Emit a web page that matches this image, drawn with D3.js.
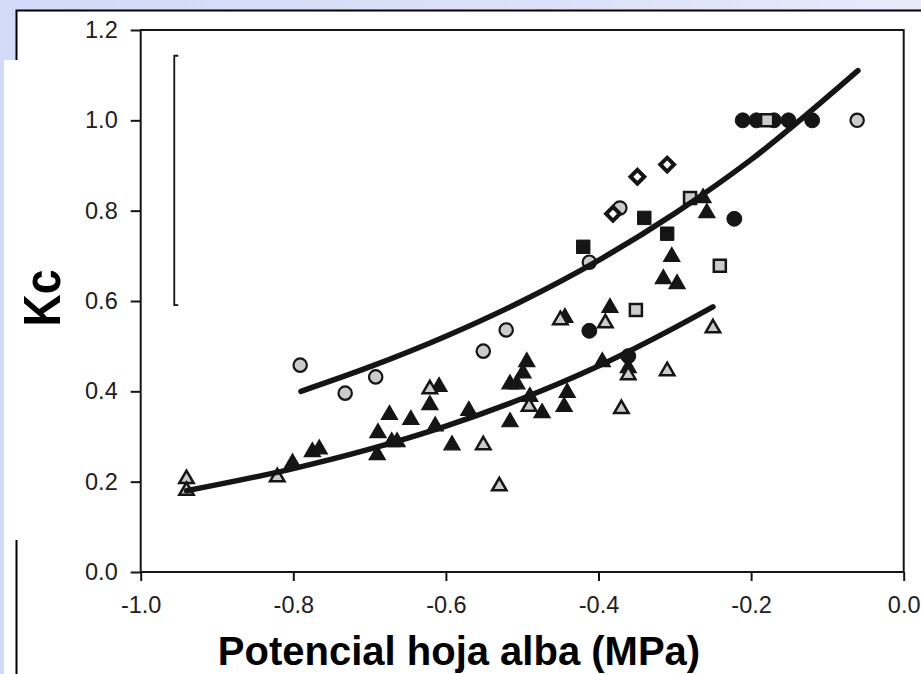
<!DOCTYPE html>
<html>
<head>
<meta charset="utf-8">
<script src="https://cdn.jsdelivr.net/npm/d3@7"></script>
<style>
  html, body { margin: 0; padding: 0; background: #fff; }
  svg { display: block; }
</style>
</head>
<body>
<div id="chart"></div>
<script>
// values, [leaf water potential (MPa), Kc]
const blackTriangles = [
  [-0.801, 0.241], [-0.775, 0.266], [-0.766, 0.272], [-0.690, 0.259], [-0.689, 0.308],
  [-0.674, 0.348], [-0.671, 0.288], [-0.664, 0.288], [-0.646, 0.337], [-0.621, 0.370],
  [-0.614, 0.323], [-0.609, 0.410], [-0.592, 0.281], [-0.570, 0.357], [-0.516, 0.416],
  [-0.507, 0.416], [-0.516, 0.332], [-0.499, 0.440], [-0.494, 0.465], [-0.490, 0.388],
  [-0.474, 0.352], [-0.445, 0.366], [-0.441, 0.397], [-0.444, 0.563], [-0.395, 0.465],
  [-0.385, 0.585], [-0.361, 0.452], [-0.315, 0.649], [-0.304, 0.698], [-0.297, 0.638],
  [-0.263, 0.828], [-0.258, 0.795]
]
const greyTriangles = [
  [-0.940, 0.206], [-0.940, 0.180], [-0.821, 0.210], [-0.621, 0.405], [-0.551, 0.281],
  [-0.530, 0.190], [-0.491, 0.366], [-0.450, 0.558], [-0.391, 0.551], [-0.370, 0.361],
  [-0.361, 0.436], [-0.310, 0.445], [-0.250, 0.540]
]
const greyCircles = [
  [-0.791, 0.458], [-0.732, 0.396], [-0.692, 0.432], [-0.551, 0.489], [-0.521, 0.536],
  [-0.412, 0.686], [-0.372, 0.806], [-0.061, 1.000]
]
const blackCircles = [
  [-0.412, 0.534], [-0.361, 0.478], [-0.222, 0.782], [-0.211, 1.000], [-0.193, 1.000],
  [-0.170, 1.000], [-0.151, 1.000], [-0.120, 1.000]
]
const blackSquares = [[-0.420, 0.720], [-0.340, 0.784], [-0.310, 0.749]]
const greySquares = [[-0.351, 0.580], [-0.280, 0.828], [-0.241, 0.678], [-0.179, 1.000]]
const whiteDiamonds = [[-0.381, 0.793], [-0.349, 0.875], [-0.310, 0.902]]

// fitted curves, points
const upperCurve = [
  [-0.79, 0.400], [-0.70, 0.454], [-0.60, 0.522], [-0.50, 0.600], [-0.40, 0.690],
  [-0.30, 0.794], [-0.20, 0.913], [-0.06, 1.110]
]
const lowerCurve = [
  [-0.94, 0.180], [-0.80, 0.229], [-0.70, 0.272], [-0.60, 0.323], [-0.50, 0.384],
  [-0.40, 0.456], [-0.30, 0.541], [-0.25, 0.587]
]

// vertical bar in the top-left corner
const errorBar = { x: -0.956, low: 0.591, high: 1.143 }

const xTicks = [-1.0, -0.8, -0.6, -0.4, -0.2, 0.0]
const xTickLabels = ['-1.0', '-0.8', '-0.6', '-0.4', '-0.2', '0.0']
const yTicks = [0.0, 0.2, 0.4, 0.6, 0.8, 1.0, 1.2]
const yTickLabels = ['0.0', '0.2', '0.4', '0.6', '0.8', '1.0', '1.2']

const svg_width = 921
const svg_height = 674
const plot_left = 140.7
const plot_right = 903.7
const plot_top = 30
const plot_bottom = 572
const ink = '#151515'
const grey_fill = '#cbcbcb'

const xScale = d3.scaleLinear().domain([-1, 0]).range([plot_left, plot_right])
const yScale = d3.scaleLinear().domain([0, 1.2]).range([plot_bottom, plot_top])

const svg = d3.select('#chart')
  .append('svg')
  .attr('width', svg_width)
  .attr('height', svg_height)

// slide background: blue band on top and left, black frame line
const defs = svg.append('defs')
const grad = defs.append('linearGradient').attr('id', 'slide').attr('x1', 0).attr('x2', 1).attr('y1', 0).attr('y2', 0)
grad.append('stop').attr('offset', 0).attr('stop-color', '#d2daf7')
grad.append('stop').attr('offset', 0.6).attr('stop-color', '#dbe1f9')
grad.append('stop').attr('offset', 1).attr('stop-color', '#e6eafb')

svg.append('rect').attr('width', svg_width).attr('height', svg_height).attr('fill', 'url(#slide)')
svg.append('rect').attr('x', 16).attr('y', 10).attr('width', svg_width - 16).attr('height', svg_height - 10).attr('fill', '#fff')
svg.append('rect').attr('x', 4).attr('y', 60).attr('width', 40).attr('height', svg_height - 60).attr('fill', '#fff')
svg.append('path')
  .attr('d', `M16.5,${svg_height} V540 M16.5,60 V10.5 H${svg_width}`)
  .attr('fill', 'none')
  .attr('stroke', '#000')
  .attr('stroke-width', 2)

// axes
const yAxis = d3.axisLeft(yScale)
  .tickValues(yTicks)
  .tickFormat((d, i) => yTickLabels[i])
  .tickSize(10)
  .tickSizeOuter(0)
  .tickPadding(13)

const xAxis = d3.axisBottom(xScale)
  .tickValues(xTicks)
  .tickFormat((d, i) => xTickLabels[i])
  .tickSize(9)
  .tickSizeOuter(0)
  .tickPadding(15)

const gy = svg.append('g').attr('transform', `translate(${plot_left},0)`).call(yAxis)
const gx = svg.append('g').attr('transform', `translate(0,${plot_bottom})`).call(xAxis)

for (const g of [gx, gy]) {
  g.select('.domain').remove()
  g.selectAll('.tick line').attr('stroke', ink).attr('stroke-width', 2)
  g.selectAll('.tick text')
    .attr('fill', '#202020')
    .attr('font-family', '"Liberation Sans", Arial, sans-serif')
    .attr('font-size', '23.5px')
}

// plot frame
svg.append('rect')
  .attr('x', plot_left)
  .attr('y', plot_top)
  .attr('width', plot_right - plot_left)
  .attr('height', plot_bottom - plot_top)
  .attr('fill', 'none')
  .attr('stroke', ink)
  .attr('stroke-width', 2)

// error bar with small serifs to the right
svg.append('path')
  .attr('d', `M${xScale(errorBar.x) + 4},${yScale(errorBar.high)} H${xScale(errorBar.x)} V${yScale(errorBar.low)} H${xScale(errorBar.x) + 4}`)
  .attr('fill', 'none')
  .attr('stroke', ink)
  .attr('stroke-width', 1.8)

// markers
function drawMarkers (data, type, size, fill, stroke, strokeWidth, rotate) {
  const sym = d3.symbol().type(type).size(size)
  svg.append('g')
    .selectAll('path')
    .data(data)
    .join('path')
      .attr('d', sym)
      .attr('transform', d => `translate(${xScale(d[0])},${yScale(d[1])}) rotate(${rotate || 0})`)
      .attr('fill', fill)
      .attr('stroke', stroke)
      .attr('stroke-width', strokeWidth)
      .attr('stroke-linejoin', 'miter')
}

drawMarkers(blackCircles, d3.symbolCircle, 175, ink, ink, 1)
drawMarkers(greyCircles, d3.symbolCircle, 140, grey_fill, ink, 2.2)
drawMarkers(blackSquares, d3.symbolSquare, 180, ink, ink, 1)
drawMarkers(greySquares, d3.symbolSquare, 145, grey_fill, ink, 2.5)
drawMarkers(whiteDiamonds, d3.symbolSquare, 95, '#fff', ink, 4, 45)
drawMarkers(blackTriangles, d3.symbolTriangle, 115, ink, ink, 1.2)
drawMarkers(greyTriangles, d3.symbolTriangle, 90, grey_fill, ink, 2.5)

// fitted curves
const line = d3.line()
  .x(d => xScale(d[0]))
  .y(d => yScale(d[1]))
  .curve(d3.curveMonotoneX)

for (const c of [upperCurve, lowerCurve]) {
  svg.append('path')
    .datum(c)
    .attr('d', line)
    .attr('fill', 'none')
    .attr('stroke', ink)
    .attr('stroke-width', 5.5)
    .attr('stroke-linecap', 'round')
}

// axis titles
svg.append('text')
  .text('Potencial hoja alba (MPa)')
  .attr('x', 459)
  .attr('y', 665)
  .attr('text-anchor', 'middle')
  .attr('font-family', '"Liberation Sans", Arial, sans-serif')
  .attr('font-weight', 'bold')
  .attr('font-size', '40px')
  .attr('fill', '#000')

svg.append('text')
  .text('Kc')
  .attr('transform', 'translate(60,298) rotate(-90)')
  .attr('text-anchor', 'middle')
  .attr('textLength', 57)
  .attr('lengthAdjust', 'spacingAndGlyphs')
  .attr('font-family', '"Liberation Sans", Arial, sans-serif')
  .attr('font-weight', 'bold')
  .attr('font-size', '52px')
  .attr('fill', '#000')
</script>
</body>
</html>
